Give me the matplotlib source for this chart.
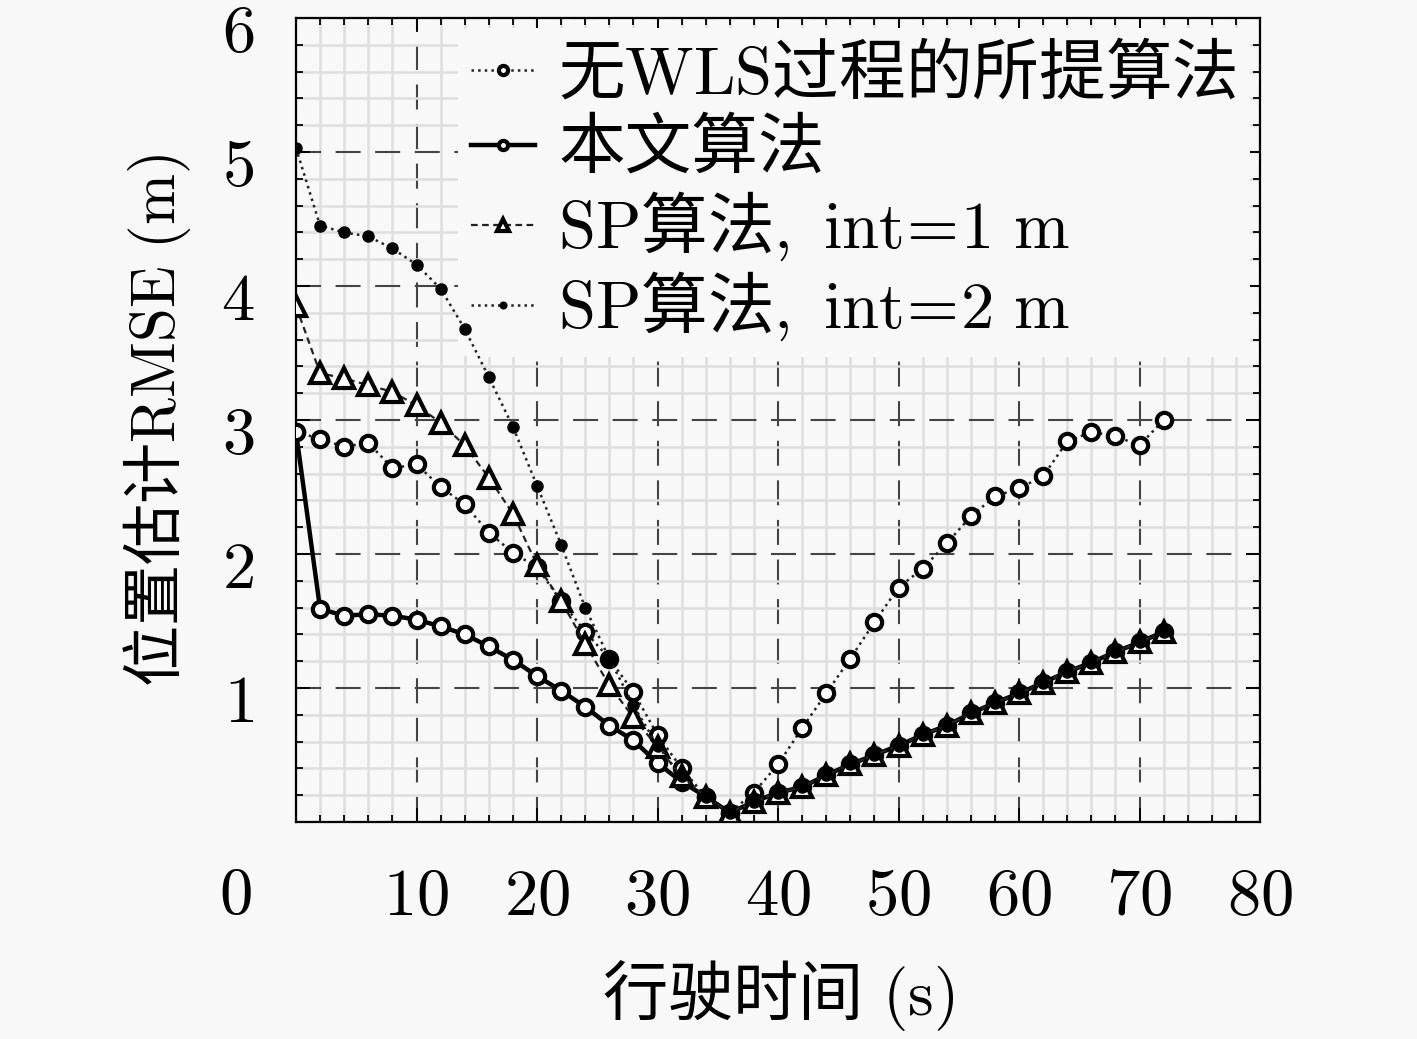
import numpy as np
import matplotlib
matplotlib.use('Agg')
import matplotlib.pyplot as plt
from matplotlib.ticker import MultipleLocator
from matplotlib.transforms import ScaledTranslation

plt.rcParams['font.family'] = ['Noto Sans CJK SC', 'DejaVu Sans']
plt.rcParams['mathtext.fontset'] = 'cm'

# driving time (s)
t = list(range(0, 74, 2))

# position RMSE (m)
no_wls = [2.91, 2.86, 2.80, 2.83, 2.64, 2.67, 2.50, 2.37, 2.16, 2.01,
          1.90, 1.65, 1.42, 1.22, 0.97, 0.65, 0.40, 0.19, 0.07, 0.22,
          0.43, 0.70, 0.96, 1.22, 1.49, 1.75, 1.89, 2.08, 2.28, 2.43,
          2.49, 2.58, 2.84, 2.91, 2.88, 2.81, 3.00]
proposed = [2.91, 1.59, 1.54, 1.55, 1.54, 1.51, 1.46, 1.40, 1.31, 1.21,
            1.09, 0.98, 0.86, 0.72, 0.61, 0.44, 0.30, 0.19, 0.07, 0.15,
            0.22, 0.26, 0.35, 0.43, 0.50, 0.57, 0.65, 0.72, 0.81, 0.89,
            0.96, 1.04, 1.12, 1.19, 1.27, 1.34, 1.42]
sp_int1 = [3.85, 3.35, 3.31, 3.26, 3.21, 3.11, 2.98, 2.81, 2.57, 2.30,
           1.92, 1.65, 1.33, 1.02, 0.78, 0.56, 0.34] + proposed[17:]
sp_int2 = [5.03, 4.45, 4.40, 4.37, 4.28, 4.16, 3.98, 3.68, 3.32, 2.95,
           2.51, 2.07, 1.60, 1.22, 0.87, 0.57, 0.34] + proposed[17:]

labels = ['无$\\mathrm{WLS}$过程的所提算法', '本文算法',
          '$\\mathrm{SP}$算法$\\mathrm{,\\ int\\!=\\!1\\ m}$',
          '$\\mathrm{SP}$算法$\\mathrm{,\\ int\\!=\\!2\\ m}$']

bg = '#f8f8f8'
fig = plt.figure(figsize=(14.17, 10.39), dpi=100, facecolor=bg)
ax = fig.add_axes([296 / 1417, 1 - 822 / 1039, 964 / 1417, 804 / 1039])
ax.set_facecolor(bg)

ax.plot(t, no_wls, ':', color='#222222', lw=1.8, marker='o', ms=11,
        mfc='white', mec='black', mew=3, label=labels[0], zorder=3)
ax.plot(t, proposed, '-', color='black', lw=3.2, marker='o', ms=11,
        mfc='white', mec='black', mew=3, label=labels[1], zorder=4)
ax.plot(t, sp_int1, '--', dashes=(3, 2), color='#222222', lw=1.6, marker='^',
        ms=14, mfc='white', mec='black', mew=3, label=labels[2], zorder=5)
ax.plot(t, sp_int2, ':', color='#222222', lw=1.8, marker='o', ms=8,
        mfc='black', mec='black', label=labels[3], zorder=6)

ax.set_xlim(0, 80)
ax.set_ylim(0, 6)
ax.xaxis.set_minor_locator(MultipleLocator(2))
ax.yaxis.set_minor_locator(MultipleLocator(0.2))

ax.set_xticks(range(0, 90, 10))
ax.set_xticklabels([''] + ['$%d$' % v for v in range(10, 90, 10)])
ax.set_yticks(range(0, 7))
ax.set_yticklabels([''] + ['$%d$' % v for v in range(1, 7)])

ax.grid(which='minor', color='#dedede', lw=1.8, ls='-')
ax.grid(which='major', color='#444444', lw=1.5, ls=(0, (12, 7)))
ax.set_axisbelow(True)

ax.tick_params(which='both', direction='in', top=True, right=True, width=1.3)
ax.tick_params(which='major', length=10, labelsize=48)
ax.tick_params(axis='x', which='major', pad=29)
ax.tick_params(axis='y', which='major', pad=30)
ax.tick_params(which='minor', length=5)
for s in ax.spines.values():
    s.set_linewidth(1.6)

shift = ScaledTranslation(0, -0.08, fig.dpi_scale_trans)
for lab in ax.get_yticklabels():
    lab.set_transform(lab.get_transform() + shift)

fig.text(235 / 1417, 1 - 895 / 1039, '$0$', fontsize=48, ha='center', va='center')

ax.set_xlabel('行驶时间$\\mathrm{\\ (s)}$', fontsize=47, labelpad=20)
ax.set_ylabel('位置估计$\\mathrm{RMSE\\ (m)}$', fontsize=44, labelpad=20)

leg = ax.legend(loc='upper right', fontsize=48, handlelength=0.95, handletextpad=0.35,
                labelspacing=0.1, borderaxespad=0.15, borderpad=0.2,
                frameon=True, facecolor=bg, edgecolor='none', framealpha=1,
                markerscale=0.6)

fig.savefig('out.png', dpi=100, facecolor=bg)
